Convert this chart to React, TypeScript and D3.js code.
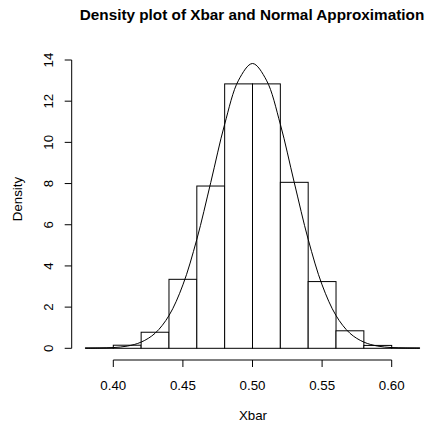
import React, { useEffect, useRef } from "react";
import * as d3 from "d3";

// histogram bins (left edges), width 0.02
const binStarts = [0.38, 0.4, 0.42, 0.44, 0.46, 0.48, 0.5, 0.52, 0.54, 0.56, 0.58, 0.6];
const binDensity = [0.02, 0.15, 0.78, 3.35, 7.88, 12.84, 12.84, 8.06, 3.24, 0.85, 0.14, 0.02];
const binWidth = 0.02;

// normal approximation curve
const curveX = [0.38, 0.39, 0.4, 0.41, 0.42, 0.43, 0.44, 0.45, 0.46, 0.47, 0.48, 0.49, 0.5,
  0.51, 0.52, 0.53, 0.54, 0.55, 0.56, 0.57, 0.58, 0.59, 0.6, 0.61, 0.62];
const curveY = [0.002, 0.01, 0.034, 0.107, 0.3, 0.73, 1.59, 3.08, 5.29, 8.05, 10.88, 13.02, 13.83,
  13.02, 10.88, 8.05, 5.29, 3.08, 1.59, 0.73, 0.3, 0.107, 0.034, 0.01, 0.002];

const xTicks = [0.4, 0.45, 0.5, 0.55, 0.6];
const yTicks = [0, 2, 4, 6, 8, 10, 12, 14];

const W = 427;
const H = 422;

const App = () => {
  const ref = useRef<SVGSVGElement>(null);

  useEffect(() => {
    const svg = d3.select(ref.current);
    svg.selectAll("*").remove();

    // 0.40 -> 113.3px, 0.60 -> 391.7px
    const x = d3.scaleLinear().domain([0.4, 0.6]).range([113.3, 391.7]);
    const y = d3.scaleLinear().domain([0, 14]).range([348.3, 60]);

    const font = "Liberation Sans, Arial, Helvetica, sans-serif";

    svg
      .append("text")
      .attr("x", 252)
      .attr("y", 19.5)
      .attr("text-anchor", "middle")
      .attr("font-family", font)
      .attr("font-weight", "bold")
      .attr("font-size", 15.3)
      .text("Density plot of Xbar and Normal Approximation");

    // bars
    svg
      .append("g")
      .selectAll("rect")
      .data(binStarts.map((s, i) => ({ s, d: binDensity[i] })))
      .join("rect")
      .attr("x", (d) => x(d.s))
      .attr("width", (d) => x(d.s + binWidth) - x(d.s))
      .attr("y", (d) => y(d.d))
      .attr("height", (d) => y(0) - y(d.d))
      .attr("fill", "white")
      .attr("stroke", "black")
      .attr("stroke-width", 1);

    // curve
    const line = d3
      .line<number>()
      .x((d, i) => x(curveX[i]))
      .y((d) => y(d))
      .curve(d3.curveCatmullRom);
    svg
      .append("path")
      .attr("d", line(curveY))
      .attr("fill", "none")
      .attr("stroke", "black")
      .attr("stroke-width", 1);

    // x axis
    const xAxisY = 360;
    const xg = svg.append("g").attr("stroke", "black").attr("stroke-width", 1);
    xg.append("line")
      .attr("x1", x(0.4))
      .attr("x2", x(0.6))
      .attr("y1", xAxisY)
      .attr("y2", xAxisY);
    xg.selectAll("line.tick")
      .data(xTicks)
      .join("line")
      .attr("class", "tick")
      .attr("x1", (d) => x(d))
      .attr("x2", (d) => x(d))
      .attr("y1", xAxisY)
      .attr("y2", xAxisY + 7);
    svg
      .append("g")
      .selectAll("text")
      .data(xTicks)
      .join("text")
      .attr("x", (d) => x(d))
      .attr("y", 390)
      .attr("text-anchor", "middle")
      .attr("font-family", font)
      .attr("font-size", 13.3)
      .text((d) => d3.format(".2f")(d));

    // y axis
    const yAxisX = 71.7;
    const yg = svg.append("g").attr("stroke", "black").attr("stroke-width", 1);
    yg.append("line")
      .attr("x1", yAxisX)
      .attr("x2", yAxisX)
      .attr("y1", y(0))
      .attr("y2", y(14));
    yg.selectAll("line.tick")
      .data(yTicks)
      .join("line")
      .attr("class", "tick")
      .attr("x1", yAxisX)
      .attr("x2", yAxisX - 7)
      .attr("y1", (d) => y(d))
      .attr("y2", (d) => y(d));
    svg
      .append("g")
      .selectAll("text")
      .data(yTicks)
      .join("text")
      .attr("transform", (d) => `translate(53,${y(d)}) rotate(-90)`)
      .attr("text-anchor", "middle")
      .attr("font-family", font)
      .attr("font-size", 13.3)
      .text((d) => d);

    svg
      .append("text")
      .attr("x", 253)
      .attr("y", 420)
      .attr("text-anchor", "middle")
      .attr("font-family", font)
      .attr("font-size", 13.3)
      .text("Xbar");

    svg
      .append("text")
      .attr("transform", `translate(22,199) rotate(-90)`)
      .attr("text-anchor", "middle")
      .attr("font-family", font)
      .attr("font-size", 13.3)
      .text("Density");
  }, []);

  return (
    <svg
      ref={ref}
      width={W}
      height={H}
      style={{ position: "absolute", left: 0, top: 0, background: "white" }}
    ></svg>
  );
};

export default App;
